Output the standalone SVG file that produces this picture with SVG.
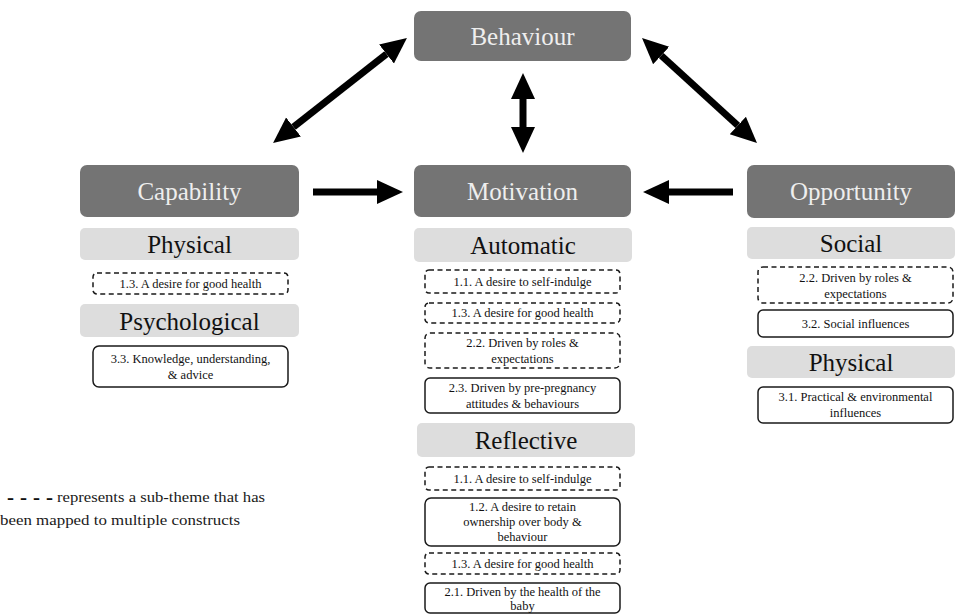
<svg xmlns="http://www.w3.org/2000/svg" width="960" height="616" viewBox="0 0 960 616">
<style>
.main{fill:#747474}
.mainT{font-family:"Liberation Serif","DejaVu Serif",serif;font-size:25px;fill:#eeeeee;text-anchor:middle}
.band{fill:#dddddd}
.bandT{font-family:"Liberation Serif","DejaVu Serif",serif;font-size:25px;fill:#111;text-anchor:middle}
.box{fill:#fff;stroke:#1a1a1a;stroke-width:1.5}
.dash{fill:#fff;stroke:#1a1a1a;stroke-width:1.5;stroke-dasharray:5 3.5}
.t{font-family:"Liberation Serif","DejaVu Serif",serif;font-size:12.5px;fill:#111;text-anchor:middle}
.leg{font-family:"Liberation Serif","DejaVu Serif",serif;font-size:15px;fill:#1a1a1a}
.legd{font-family:"Liberation Serif","DejaVu Serif",serif;font-size:21px;font-weight:bold;fill:#111}
.arr{stroke:#000;stroke-width:7;fill:none}
</style>
<defs>
<marker id="ah" markerUnits="userSpaceOnUse" markerWidth="28" markerHeight="26" refX="0" refY="12" orient="auto-start-reverse" viewBox="0 0 28 24">
<path d="M0,0 L26,12 L0,24 z" fill="#000"/>
</marker>
</defs>
<rect width="960" height="616" fill="#fff"/>

<g id="connectors">
<line class="arr" x1="293.5" y1="127" x2="386.5" y2="54" marker-start="url(#ah)" marker-end="url(#ah)"/>
<line class="arr" x1="661.2" y1="55.5" x2="737.8" y2="125.5" marker-start="url(#ah)" marker-end="url(#ah)"/>
<line class="arr" x1="523" y1="99" x2="523" y2="127" marker-start="url(#ah)" marker-end="url(#ah)"/>
<line class="arr" x1="313" y1="192" x2="377" y2="192" marker-end="url(#ah)"/>
<line class="arr" x1="733" y1="192" x2="669" y2="192" marker-end="url(#ah)"/>
</g>

<g id="behaviour">
<rect class="main" x="414" y="11" width="217" height="50" rx="7"/>
<text class="mainT" x="522.5" y="45">Behaviour</text>
</g>

<g id="capability">
<rect class="main" x="80" y="165" width="219" height="52" rx="7"/>
<text class="mainT" x="189.5" y="200">Capability</text>
</g>
<g id="cap-physical">
<rect class="band" x="80" y="228" width="219" height="32" rx="5"/>
<text class="bandT" x="189.5" y="253">Physical</text>
</g>
<g id="cap-1-3">
<rect class="dash" x="93" y="273" width="195" height="21" rx="4"/>
<text class="t" x="190.5" y="288">1.3. A desire for good health</text>
</g>
<g id="cap-psychological">
<rect class="band" x="80" y="304" width="219" height="33" rx="5"/>
<text class="bandT" x="189.5" y="330">Psychological</text>
</g>
<g id="cap-3-3">
<rect class="box" x="93" y="346" width="195" height="41" rx="6"/>
<text class="t" x="190.5" y="363">3.3. Knowledge, understanding,</text>
<text class="t" x="190.5" y="379">&amp; advice</text>
</g>

<g id="motivation">
<rect class="main" x="414" y="165" width="217" height="52" rx="7"/>
<text class="mainT" x="522.5" y="200">Motivation</text>
</g>
<g id="mot-automatic">
<rect class="band" x="414" y="228" width="218" height="34" rx="5"/>
<text class="bandT" x="523" y="254">Automatic</text>
</g>
<g id="mot-a-1-1">
<rect class="dash" x="425" y="270" width="195" height="23" rx="4"/>
<text class="t" x="522.5" y="286">1.1. A desire to self-indulge</text>
</g>
<g id="mot-a-1-3">
<rect class="dash" x="425" y="303" width="195" height="20" rx="4"/>
<text class="t" x="522.5" y="317">1.3. A desire for good health</text>
</g>
<g id="mot-a-2-2">
<rect class="dash" x="425" y="333" width="195" height="35" rx="5"/>
<text class="t" x="522.5" y="347">2.2. Driven by roles &amp;</text>
<text class="t" x="522.5" y="363">expectations</text>
</g>
<g id="mot-a-2-3">
<rect class="box" x="425" y="378" width="195" height="35" rx="5"/>
<text class="t" x="522.5" y="392">2.3. Driven by pre-pregnancy</text>
<text class="t" x="522.5" y="408">attitudes &amp; behaviours</text>
</g>
<g id="mot-reflective">
<rect class="band" x="417" y="423" width="218" height="34" rx="5"/>
<text class="bandT" x="526" y="449">Reflective</text>
</g>
<g id="mot-r-1-1">
<rect class="dash" x="425" y="467" width="195" height="23" rx="4"/>
<text class="t" x="522.5" y="483">1.1. A desire to self-indulge</text>
</g>
<g id="mot-r-1-2">
<rect class="box" x="425" y="498" width="195" height="48" rx="6"/>
<text class="t" x="522.5" y="511">1.2. A desire to retain</text>
<text class="t" x="522.5" y="526">ownership over body &amp;</text>
<text class="t" x="522.5" y="541">behaviour</text>
</g>
<g id="mot-r-1-3">
<rect class="dash" x="425" y="553" width="195" height="21" rx="4"/>
<text class="t" x="522.5" y="568">1.3. A desire for good health</text>
</g>
<g id="mot-r-2-1">
<rect class="box" x="425" y="583" width="195" height="30" rx="5"/>
<text class="t" x="522.5" y="596">2.1. Driven by the health of the</text>
<text class="t" x="522.5" y="610">baby</text>
</g>

<g id="opportunity">
<rect class="main" x="747" y="165" width="208" height="53" rx="7"/>
<text class="mainT" x="851" y="200">Opportunity</text>
</g>
<g id="opp-social">
<rect class="band" x="747" y="227" width="208" height="32" rx="5"/>
<text class="bandT" x="851" y="252">Social</text>
</g>
<g id="opp-2-2">
<rect class="dash" x="758" y="267" width="195" height="36" rx="5"/>
<text class="t" x="855.5" y="282">2.2. Driven by roles &amp;</text>
<text class="t" x="855.5" y="298">expectations</text>
</g>
<g id="opp-3-2">
<rect class="box" x="758" y="310" width="195" height="27" rx="5"/>
<text class="t" x="855.5" y="328">3.2. Social influences</text>
</g>
<g id="opp-physical">
<rect class="band" x="747" y="346" width="208" height="32" rx="5"/>
<text class="bandT" x="851" y="371">Physical</text>
</g>
<g id="opp-3-1">
<rect class="box" x="758" y="387" width="195" height="36" rx="5"/>
<text class="t" x="855.5" y="401">3.1. Practical &amp; environmental</text>
<text class="t" x="855.5" y="417">influences</text>
</g>

<g id="legend">
<text class="legd" x="7" y="504" textLength="46" lengthAdjust="spacing">- - - -</text>
<text class="leg" x="57" y="502" textLength="208" lengthAdjust="spacingAndGlyphs">represents a sub-theme that has</text>
<text class="leg" x="0" y="525" textLength="240" lengthAdjust="spacingAndGlyphs">been mapped to multiple constructs</text>
</g>
</svg>
